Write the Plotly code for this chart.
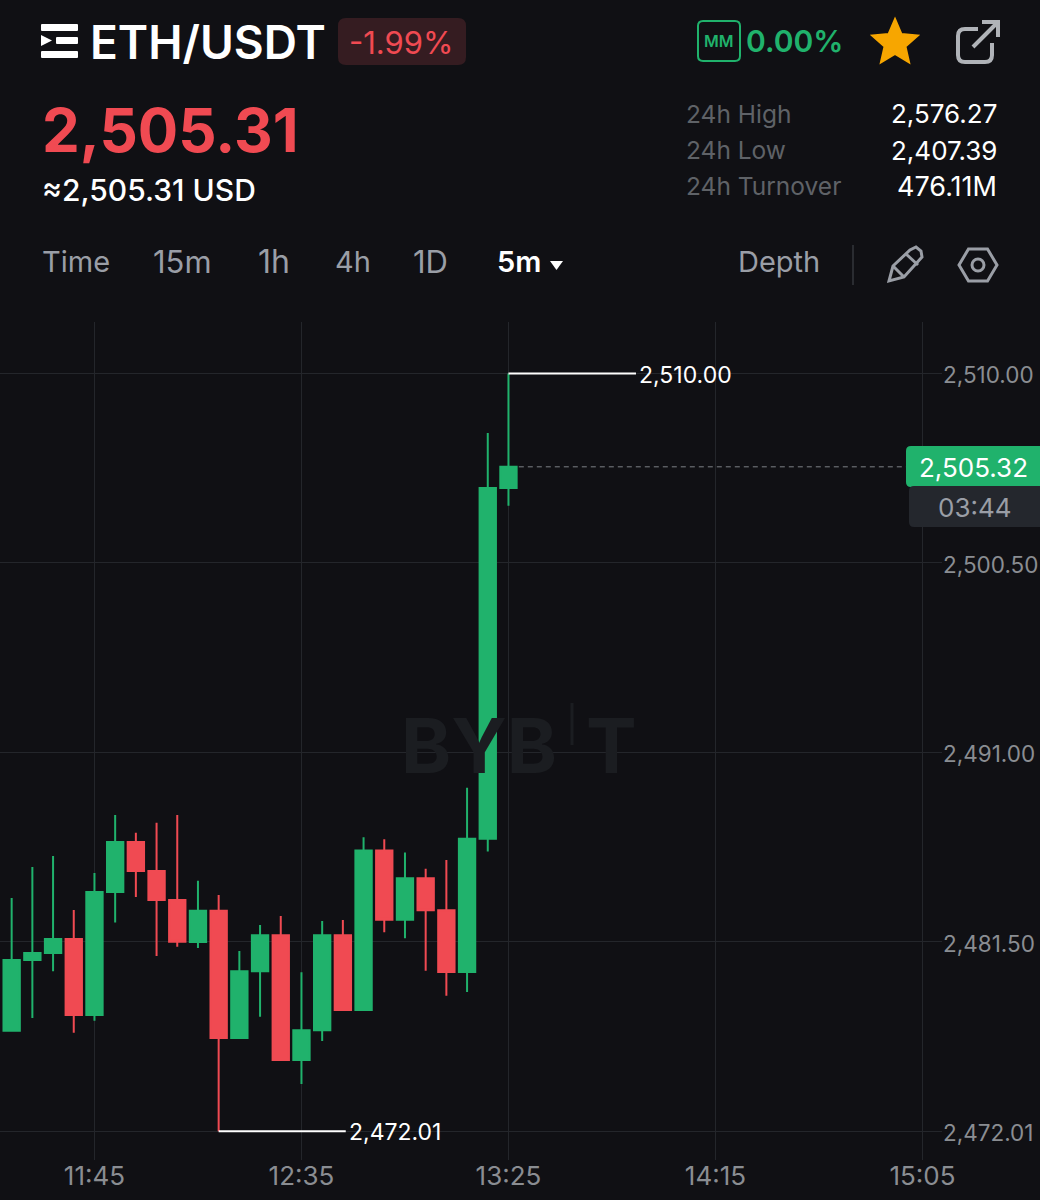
import math
import plotly.graph_objects as go

# 5m candles
times = ["11:25", "11:30", "11:35", "11:40", "11:45", "11:50", "11:55", "12:00", "12:05",
         "12:10", "12:15", "12:20", "12:25", "12:30", "12:35", "12:40", "12:45", "12:50",
         "12:55", "13:00", "13:05", "13:10", "13:15", "13:20", "13:25"]
opens = [2477.05, 2480.60, 2480.95, 2481.65, 2477.84, 2484.01, 2486.51, 2485.06, 2483.61,
         2481.50, 2483.07, 2476.69, 2480.03, 2481.84, 2475.58, 2477.07, 2481.84, 2478.09,
         2486.08, 2482.62, 2484.69, 2483.09, 2480.00, 2486.68, 2504.26]
highs = [2483.71, 2485.26, 2485.81, 2483.10, 2484.96, 2487.87, 2486.98, 2487.48, 2487.87,
         2484.57, 2483.86, 2481.05, 2482.35, 2482.80, 2479.98, 2482.55, 2482.60, 2486.75,
         2486.65, 2485.98, 2485.17, 2485.61, 2489.23, 2507.02, 2510.00]
lows = [2477.05, 2477.69, 2480.03, 2476.95, 2477.55, 2482.47, 2483.76, 2480.80, 2481.26,
        2481.20, 2472.01, 2476.66, 2477.75, 2475.58, 2474.38, 2476.54, 2478.09, 2478.09,
        2481.99, 2481.69, 2480.06, 2478.81, 2478.99, 2486.03, 2503.37]
closes = [2480.60, 2480.95, 2481.65, 2477.84, 2484.01, 2486.51, 2485.06, 2483.61, 2481.51,
          2483.07, 2476.69, 2480.03, 2481.84, 2475.58, 2477.07, 2481.84, 2478.09, 2486.08,
          2482.62, 2484.69, 2483.09, 2480.00, 2486.68, 2504.26, 2505.32]

price_ticks = [2510.00, 2500.50, 2491.00, 2481.50, 2472.01]
price_tick_labels = ["2,510.00", "2,500.50", "2,491.00", "2,481.50", "2,472.01"]
time_ticks = ["11:45", "12:35", "13:25", "14:15", "15:05"]
last_price = 2505.32
high_price = 2510.00
low_price = 2472.01

DAY = "2024-06-10 "
BG = "#101014"
GRID = "#24262b"
GREEN = "#20b26c"
RED = "#f04a52"
ICON = "#9a9ea6"
FONT = "Inter"


def px(x, y):
    return f"{x / 1040:.5f} {1 - y / 1200:.5f}"


def path(points, close=True):
    out = "M " + " L ".join(px(x, y) for x, y in points)
    return out + (" Z" if close else "")


def round_rect(x0, y0, x1, y1, r):
    return (f"M {px(x0 + r, y0)} L {px(x1 - r, y0)} Q {px(x1, y0)} {px(x1, y0 + r)} "
            f"L {px(x1, y1 - r)} Q {px(x1, y1)} {px(x1 - r, y1)} L {px(x0 + r, y1)} "
            f"Q {px(x0, y1)} {px(x0, y1 - r)} L {px(x0, y0 + r)} Q {px(x0, y0)} {px(x0 + r, y0)} Z")


def shape(d, fill=None, line=None, width=0):
    return dict(type="path", path=d, xref="paper", yref="paper", layer="above",
                fillcolor=fill if fill else "rgba(0,0,0,0)",
                line=dict(color=line if line else "rgba(0,0,0,0)", width=width))


def note(x, y, text, size, color, anchor="left", weight=400):
    return dict(x=x / 1040, y=1 - y / 1200, xref="paper", yref="paper", text=text, showarrow=False,
                xanchor=anchor, yanchor="middle", borderpad=0,
                font=dict(family=FONT, size=size, color=color, weight=weight))


x_dates = [DAY + t for t in times]

fig = go.Figure()

fig.add_trace(go.Candlestick(x=x_dates, open=opens, high=highs, low=lows, close=closes,
                             whiskerwidth=0,
                             increasing=dict(line=dict(color=GREEN, width=2), fillcolor=GREEN),
                             decreasing=dict(line=dict(color=RED, width=2), fillcolor=RED)))

# high / low leader lines
fig.add_trace(go.Scatter(x=[DAY + "13:25", DAY + "13:55:48"], y=[high_price, high_price], mode="lines",
                         line=dict(color="#ffffff", width=2)))
fig.add_trace(go.Scatter(x=[DAY + "12:15", DAY + "12:45:42"], y=[low_price, low_price], mode="lines",
                         line=dict(color="#ffffff", width=2)))
# last price
fig.add_trace(go.Scatter(x=[DAY + "13:27:30", DAY + "15:01"], y=[last_price, last_price], mode="lines",
                         line=dict(color="#7d8086", width=1, dash="5px,4px")))

shapes = []
# menu icon
shapes.append(shape(round_rect(41, 24, 78, 31, 1), fill="#ffffff"))
shapes.append(shape(path([(41, 35), (52, 40.5), (41, 46)]), fill="#ffffff"))
shapes.append(shape(round_rect(56, 37, 78, 44, 1), fill="#ffffff"))
shapes.append(shape(round_rect(41, 51, 78, 58, 1), fill="#ffffff"))
# change badge
shapes.append(shape(round_rect(338, 18, 466, 65, 8), fill="#351c21"))
# MM box
shapes.append(shape(round_rect(698, 21, 740, 61, 5), line=GREEN, width=2))
# star
star = []
for i in range(10):
    r = 24 if i % 2 == 0 else 11
    a = -math.pi / 2 + i * math.pi / 5
    star.append((895 + r * math.cos(a), 43 + r * math.sin(a)))
shapes.append(shape(path(star), fill="#f7a600", line="#f7a600", width=2))
# share icon
shapes.append(shape(f"M {px(978, 29)} L {px(965, 29)} Q {px(958, 29)} {px(958, 36)} L {px(958, 55)} "
                    f"Q {px(958, 62)} {px(965, 62)} L {px(985, 62)} Q {px(992, 62)} {px(992, 55)} "
                    f"L {px(992, 43)}", line="#b0b3b8", width=4))
shapes.append(shape(path([(973, 47), (998, 22)], close=False), line="#b0b3b8", width=4))
shapes.append(shape(path([(982, 22), (998, 22), (998, 37)], close=False), line="#b0b3b8", width=4))
# interval caret and divider
shapes.append(shape(path([(550, 261), (563, 261), (556.5, 270)]), fill="#ffffff"))
shapes.append(shape(path([(853, 245), (853, 285)], close=False), line="#33363b", width=1.5))
# pencil
shapes.append(shape(path([(889, 281), (893, 266), (910, 250), (916, 247), (921, 251), (922, 257),
                          (904, 277)]), line=ICON, width=3))
shapes.append(shape(path([(906, 254), (918, 265)], close=False), line=ICON, width=3))
shapes.append(shape(path([(893, 266), (904, 277)], close=False), line=ICON, width=3))
# settings hexagon
shapes.append(shape(path([(959, 265), (968.5, 249), (987.5, 249), (997, 265), (987.5, 281), (968.5, 281)]),
                    line=ICON, width=3))
shapes.append(dict(type="circle", xref="paper", yref="paper", x0=972 / 1040, x1=984 / 1040,
                   y0=1 - 271 / 1200, y1=1 - 259 / 1200, line=dict(color=ICON, width=3), layer="above"))
# watermark I
shapes.append(dict(type="line", xref="paper", yref="paper", x0=572 / 1040, x1=572 / 1040,
                   y0=1 - 703 / 1200, y1=1 - 745 / 1200, line=dict(color="#1b1d21", width=3), layer="below"))
# price tag and countdown
shapes.append(shape(round_rect(906, 446, 1048, 487, 5), fill=GREEN))
shapes.append(shape(round_rect(909, 486, 1048, 527, 5), fill="#24272d"))

annotations = [
    note(89, 42, "ETH/USDT", 46, "#ffffff", weight=600),
    note(348, 42, "-1.99%", 31, RED),
    note(745, 41, "0.00%", 30, GREEN, weight=600),
    note(719, 41, "MM", 16, GREEN, anchor="center", weight=600),
    note(41, 130, "2,505.31", 60, RED, weight=700),
    note(41, 190, "≈2,505.31 USD", 30, "#ffffff", weight=500),
    note(41, 262, "Time", 29, ICON),
    note(152, 262, "15m", 31, ICON),
    note(257, 262, "1h", 32, ICON),
    note(334, 262, "4h", 29, ICON),
    note(412, 262, "1D", 31, ICON),
    note(496, 262, "5m", 29, "#ffffff", weight=600),
    note(737, 262, "Depth", 29, ICON),
    note(685, 114, "24h High", 24.5, "#5f6267"),
    note(685, 150, "24h Low", 24.5, "#5f6267"),
    note(685, 186, "24h Turnover", 24.5, "#5f6267"),
    note(998, 114, "2,576.27", 26, "#ffffff", anchor="right"),
    note(998, 150, "2,407.39", 26, "#ffffff", anchor="right"),
    note(998, 186, "476.11M", 27, "#ffffff", anchor="right"),
    note(400, 745, "BYB", 76, "#1b1d21", weight=700),
    note(638, 745, "T", 76, "#1b1d21", anchor="right", weight=700),
    note(973, 467, "2,505.32", 26, "#ffffff", anchor="center"),
    note(975, 507, "03:44", 26, "#9a9ea6", anchor="center"),
    dict(x=DAY + "13:56:00", y=high_price, xref="x", yref="y", text="2,510.00", showarrow=False, yshift=-2,
         xanchor="left", yanchor="middle", font=dict(family=FONT, size=23, color="#ffffff")),
    dict(x=DAY + "12:46:00", y=low_price, xref="x", yref="y", text="2,472.01", showarrow=False, yshift=-1,
         xanchor="left", yanchor="middle", font=dict(family=FONT, size=23, color="#ffffff")),
]

fig.update_layout(width=1040, height=1200, margin=dict(l=0, r=0, t=0, b=0), autosize=False,
                  paper_bgcolor=BG, plot_bgcolor=BG, showlegend=False, boxgap=0.21, boxgroupgap=0,
                  shapes=shapes, annotations=annotations, font=dict(family=FONT))
fig.update_xaxes(type="date", domain=[0, 942 / 1040], automargin=False,
                 range=[DAY + "11:22:11", DAY + "15:09:43"],
                 rangeslider_visible=False, anchor="y", showline=False, zeroline=False,
                 tickmode="array", tickvals=[DAY + t for t in time_ticks], ticktext=time_ticks,
                 gridcolor=GRID, gridwidth=1, ticks="", ticklen=0, ticklabelstandoff=-2,
                 tickfont=dict(family=FONT, size=26, color="#8a8d92"))
fig.update_yaxes(domain=[40 / 1200, 878 / 1200], range=[2470.57, 2512.58], side="right", automargin=False,
                 tickmode="array", tickvals=price_ticks, ticktext=price_tick_labels,
                 showline=False, zeroline=False, gridcolor=GRID, gridwidth=1, ticks="",
                 ticklabelstandoff=0, ticklabelshift=2,
                 tickfont=dict(family=FONT, size=22.5, color="#8a8d92"))

# plotly's page keeps the browser's 8px body margin otherwise
fig.write_html("out.html", config=dict(displayModeBar=False),
               post_script="document.body.style.margin='0';document.body.style.background='#101014';")
